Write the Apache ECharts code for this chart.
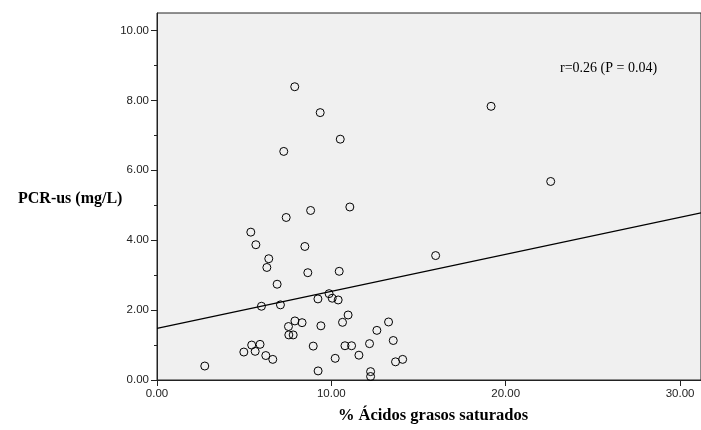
<!DOCTYPE html>
<html>
<head>
<meta charset="utf-8">
<script src="https://cdn.jsdelivr.net/npm/echarts@6/dist/echarts.min.js"></script>
<style>html,body{margin:0;padding:0;background:#fff;}#c{width:701px;height:430px;}</style>
</head>
<body>
<div id="c"></div>
<script>
// % saturated fatty acids (x) and hs-CRP mg/L (y)
var satFat = [2.74,4.98,5.43,5.63,5.91,6.24,6.64,5.99,7.08,6.89,6.41,6.30,5.67,5.38,7.41,8.81,8.48,8.65,7.54,7.91,8.32,7.56,7.81,8.96,9.40,9.23,9.87,10.05,10.39,10.45,9.24,10.22,10.78,11.16,10.64,10.96,11.06,7.90,9.36,7.27,10.51,19.16,22.58,15.98,11.58,12.19,12.61,13.28,13.55,13.68,14.09,12.25,12.25];
var pcr    = [0.40,0.80,1.00,0.82,1.02,0.70,0.59,2.11,2.15,2.74,3.47,3.22,3.87,4.23,4.65,4.85,3.82,3.07,1.53,1.69,1.64,1.29,1.29,0.97,1.55,2.32,2.47,2.34,2.29,3.11,0.26,0.62,0.98,0.98,1.65,1.86,4.95,8.39,7.65,6.54,6.89,7.83,5.68,3.56,0.71,1.04,1.42,1.66,1.13,0.52,0.59,0.24,0.10];
var fitX = [0, 31.2];
var fitY = [1.48, 4.78];
var xTicks = [0, 10, 20, 30];
var yTicks = [0, 2, 4, 6, 8, 10];
var yMinorTicks = [1, 3, 5, 7, 9];
var xTitle = '% Ácidos grasos saturados';
var yTitle = 'PCR-us (mg/L)';
var note = 'r=0.26 (P = 0.04)';

var pts = satFat.map(function (x, i) { return [x, pcr[i]]; });
var fit = fitX.map(function (x, i) { return [x, fitY[i]]; });

var chart = echarts.init(document.getElementById('c'), null, {renderer: 'canvas'});
var lblStyle = {color: '#222', fontFamily: 'Liberation Sans, Arial, sans-serif', fontSize: 11.5, margin: 8};
chart.setOption({
  animation: false,
  backgroundColor: '#ffffff',
  grid: {left: 157, right: 0, top: 13, bottom: 50, show: true, backgroundColor: '#f0f0f0', borderColor: '#222', borderWidth: 1},
  xAxis: {
    type: 'value', min: 0, max: 31.2,
    axisLine: {show: true, lineStyle: {color: '#222', width: 1}},
    axisTick: {show: true, length: 6, customValues: xTicks, lineStyle: {color: '#222'}},
    axisLabel: Object.assign({customValues: xTicks, formatter: function (v) { return v.toFixed(2); }}, lblStyle),
    splitLine: {show: false}
  },
  yAxis: [{
    type: 'value', min: 0, max: 10.5,
    axisLine: {show: true, lineStyle: {color: '#222', width: 1}},
    axisTick: {show: true, length: 6, customValues: yTicks, lineStyle: {color: '#222'}},
    axisLabel: Object.assign({customValues: yTicks, formatter: function (v) { return v.toFixed(2); }}, lblStyle),
    splitLine: {show: false}
  }, {
    type: 'value', min: 0, max: 10.5, position: 'left',
    axisLine: {show: false},
    axisTick: {show: true, length: 3, customValues: yMinorTicks, lineStyle: {color: '#222'}},
    axisLabel: {show: false},
    splitLine: {show: false}
  }],
  graphic: [
    {type: 'text', x: 18, y: 199, style: {text: yTitle, textAlign: 'left', textVerticalAlign: 'middle', font: 'bold 16px "Liberation Serif", "Times New Roman", serif', fill: '#000'}},
    {type: 'text', x: 433, y: 416, style: {text: xTitle, textAlign: 'center', textVerticalAlign: 'middle', font: 'bold 16.5px "Liberation Serif", "Times New Roman", serif', fill: '#000'}},
    {type: 'text', x: 560, y: 68, style: {text: note, textAlign: 'left', textVerticalAlign: 'middle', font: '14px "Liberation Serif", "Times New Roman", serif', fill: '#000'}}
  ],
  series: [{
    type: 'line', data: fit, showSymbol: false, symbol: 'none',
    lineStyle: {color: '#000', width: 1.3}, z: 2, silent: true
  }, {
    type: 'scatter', data: pts, symbol: 'circle', symbolSize: 8,
    itemStyle: {color: 'rgba(0,0,0,0)', borderColor: '#000', borderWidth: 1, opacity: 1}, z: 3
  }]
});
</script>
</body>
</html>
